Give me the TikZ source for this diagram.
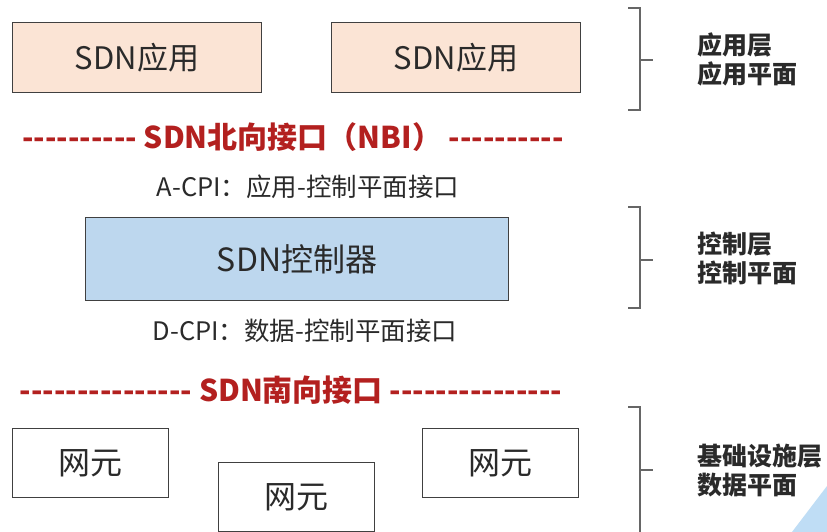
\documentclass[tikz,border=0pt]{standalone}
\usepackage{fontspec}
\setmainfont{Noto Sans CJK SC}
\newfontfamily\cjk{Noto Sans CJK SC}
\definecolor{peach}{HTML}{FBE4D5}
\definecolor{ctrlblue}{HTML}{BDD7EE}
\definecolor{edge}{HTML}{404040}
\definecolor{darkred}{HTML}{B3201F}
\definecolor{txt}{HTML}{2A2A2A}
\definecolor{wedge}{HTML}{BFDDF5}
\newcommand\dashrun[1]{\foreach \i in {1,...,#1}{-\kern0pt}}
\begin{document}
\begin{tikzpicture}[x=1pt,y=-1pt,
  box/.style={draw=edge,line width=1.2pt,inner sep=0pt,anchor=north west},
  appbox/.style={box,fill=peach,minimum width=249pt,minimum height=70pt,font=\fontsize{31}{33}\selectfont,text=txt},
  ctrlbox/.style={box,fill=ctrlblue,minimum width=423pt,minimum height=83pt,font=\fontsize{32}{34}\selectfont,text=txt},
  nebox/.style={box,fill=white,minimum width=156pt,minimum height=69pt,font=\fontsize{32}{34}\selectfont,text=txt},
  iface/.style={text=darkred,font=\bfseries\fontsize{30}{32}\selectfont,inner sep=0pt},
  cpi/.style={text=txt,font=\fontsize{25.5}{27}\selectfont,inner sep=0pt},
  layer/.style={text=txt,font=\bfseries\fontsize{25}{29}\selectfont,align=left,anchor=west,inner sep=0pt},
  brace/.style={draw=edge!80,line width=1.1pt},
]
\useasboundingbox (0,0) rectangle (827,532);
\fill[white] (0,0) rectangle (827,532);
\fill[wedge] (792,532) -- (827,486) -- (827,532) -- cycle;

% application layer
\node[appbox] (app1) at (12,22) {SDN应用};
\node[appbox] (app2) at (331,22) {SDN应用};

% northbound
\node[iface] (nbi) at (293,137) {\dashrun{10} SDN北向接口（NBI） \dashrun{10}};
\node[cpi] (acpi) at (308,187) {A-CPI：应用-控制平面接口};

% controller
\node[ctrlbox] (ctrl) at (85,217) {SDN控制器};
\node[cpi] (dcpi) at (305,331) {D-CPI：数据-控制平面接口};

% southbound
\node[iface] (sbi) at (291,390) {\dashrun{15} SDN南向接口 \dashrun{15}};

% network elements
\node[nebox] (ne1) at (12,428) {网元};
\node[nebox] (ne2) at (218,462) {网元};
\node[nebox] (ne3) at (422,428) {网元};

% braces
\draw[brace] (628,8) -- (640,8) -- (640,110) -- (628,110);
\draw[brace] (640,60) -- (653,60);
\draw[brace] (628,207) -- (640,207) -- (640,308) -- (628,308);
\draw[brace] (640,260) -- (653,260);
\draw[brace] (628,407) -- (640,407) -- (640,532);
\draw[brace] (640,470) -- (653,470);

\node[layer] (l1) at (697,59) {应用层\\应用平面};
\node[layer] (l2) at (697,258) {控制层\\控制平面};
\node[layer] (l3) at (697,471) {基础设施层\\数据平面};
\end{tikzpicture}
\end{document}
